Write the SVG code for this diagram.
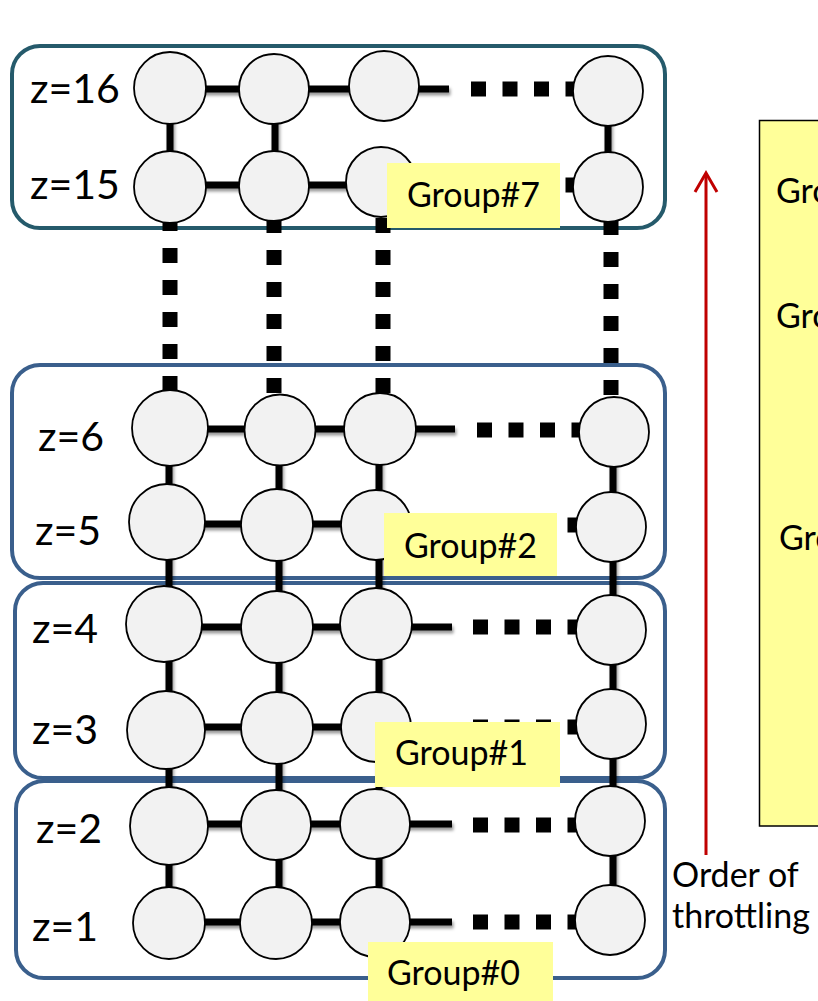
<svg xmlns="http://www.w3.org/2000/svg" width="818" height="1001" viewBox="0 0 818 1001">
  <defs>
    <filter id="lineShadow" x="-20%" y="-50%" width="140%" height="200%">
      <feDropShadow dx="1.5" dy="3" stdDeviation="1.8" flood-color="#000" flood-opacity="0.4"/>
    </filter>
  </defs>
  <style>
    .box7 { fill: none; stroke: #255A6B; stroke-width: 4; }
    .box { fill: none; stroke: #3A5F8C; stroke-width: 4; }
    .link { stroke: #000; stroke-width: 7; fill: none; }
    .dots { stroke: #000; stroke-width: 15; fill: none; stroke-dasharray: 15 16.5; }
    .vdots { stroke: #000; stroke-width: 15; fill: none; stroke-dasharray: 15 17; }
    .node { fill: #F2F2F2; stroke: #000; stroke-width: 1.8; }
    .zlab { font-family: Lato, "Liberation Sans", sans-serif; font-size: 41px; fill: #000; }
    .glab { font-family: Lato, "Liberation Sans", sans-serif; font-size: 34px; fill: #000; }
    .tag { fill: #FFFF99; }
    .panel { fill: #FFFF99; stroke: #000; stroke-width: 1.5; }
  </style>

  <!-- group outlines -->
  <g id="groups">
    <rect class="box7" x="12" y="46" width="653" height="182" rx="28"/>
    <rect class="box" x="12" y="365" width="653" height="213" rx="28"/>
    <rect class="box" x="15" y="583" width="650" height="195" rx="28"/>
    <rect class="box" x="16" y="781" width="649" height="197" rx="28"/>
  </g>

  <!-- links between routers -->
  <g id="connectors">
    <g filter="url(#lineShadow)">
      <!-- z=16 -->
      <line class="link" x1="170" y1="89" x2="384" y2="89"/>
      <line class="link" x1="384" y1="89" x2="449" y2="89"/>
      <!-- z=15 -->
      <line class="link" x1="170" y1="185" x2="440" y2="185"/>
      <!-- z=6 -->
      <line class="link" x1="170" y1="429" x2="455" y2="429"/>
      <!-- z=5 -->
      <line class="link" x1="167" y1="524" x2="440" y2="524"/>
      <!-- z=4 -->
      <line class="link" x1="164" y1="627" x2="452" y2="627"/>
      <!-- z=3 -->
      <line class="link" x1="166" y1="727" x2="440" y2="727"/>
      <!-- z=2 -->
      <line class="link" x1="169" y1="824" x2="452" y2="824"/>
      <!-- z=1 -->
      <line class="link" x1="169" y1="922" x2="452" y2="922"/>
      <!-- vertical links, top block -->
      <line class="link" x1="170" y1="88" x2="170" y2="187"/>
      <line class="link" x1="275" y1="89" x2="275" y2="186"/>
      <line class="link" x1="608" y1="91" x2="608" y2="187"/>
      <!-- vertical links, lower block -->
      <line class="link" x1="169" y1="428" x2="169" y2="923"/>
      <line class="link" x1="279" y1="430" x2="279" y2="923"/>
      <line class="link" x1="379" y1="429" x2="379" y2="922"/>
      <line class="link" x1="613" y1="432" x2="613" y2="920"/>
    </g>
    <!-- elided routers along x -->
    <line class="dots" x1="471" y1="89" x2="576" y2="89"/>
    <line class="dots" x1="471" y1="185" x2="576" y2="185"/>
    <line class="dots" x1="477" y1="430" x2="580" y2="430"/>
    <line class="dots" x1="473" y1="525" x2="578" y2="525"/>
    <line class="dots" x1="473" y1="627" x2="578" y2="627"/>
    <line class="dots" x1="473" y1="727" x2="578" y2="727"/>
    <line class="dots" x1="473" y1="825" x2="578" y2="825"/>
    <line class="dots" x1="473" y1="922" x2="578" y2="922"/>
    <!-- elided layers along z -->
    <line class="vdots" x1="170" y1="216" x2="170" y2="392"/>
    <line class="vdots" x1="274" y1="218" x2="274" y2="394"/>
    <line class="vdots" x1="383" y1="218" x2="383" y2="394"/>
    <line class="vdots" x1="611" y1="220" x2="611" y2="396"/>
  </g>

  <!-- routers -->
  <g id="n16-1"><circle class="node" cx="170" cy="88" r="36"/></g>
  <g id="n16-2"><circle class="node" cx="274" cy="89" r="35"/></g>
  <g id="n16-3"><circle class="node" cx="384" cy="86" r="35"/></g>
  <g id="n16-4"><circle class="node" cx="608" cy="91" r="35"/></g>
  <g id="n15-1"><circle class="node" cx="170" cy="187" r="36"/></g>
  <g id="n15-2"><circle class="node" cx="274" cy="186" r="35"/></g>
  <g id="n15-3"><circle class="node" cx="381" cy="182" r="35"/></g>
  <g id="n15-4"><circle class="node" cx="608" cy="187" r="35"/></g>
  <g id="n6-1"><circle class="node" cx="170" cy="428" r="38"/></g>
  <g id="n6-2"><circle class="node" cx="280" cy="430" r="35.5"/></g>
  <g id="n6-3"><circle class="node" cx="380" cy="429" r="36"/></g>
  <g id="n6-4"><circle class="node" cx="614" cy="432" r="35"/></g>
  <g id="n5-1"><circle class="node" cx="167" cy="522" r="38"/></g>
  <g id="n5-2"><circle class="node" cx="277" cy="525" r="36"/></g>
  <g id="n5-3"><circle class="node" cx="376" cy="525" r="35"/></g>
  <g id="n5-4"><circle class="node" cx="611" cy="527" r="35"/></g>
  <g id="n4-1"><circle class="node" cx="164" cy="624" r="38"/></g>
  <g id="n4-2"><circle class="node" cx="277" cy="627" r="36"/></g>
  <g id="n4-3"><circle class="node" cx="376" cy="624" r="36"/></g>
  <g id="n4-4"><circle class="node" cx="611" cy="630" r="35"/></g>
  <g id="n3-1"><circle class="node" cx="166" cy="730" r="39"/></g>
  <g id="n3-2"><circle class="node" cx="277" cy="728" r="36"/></g>
  <g id="n3-3"><circle class="node" cx="376" cy="727" r="35"/></g>
  <g id="n3-4"><circle class="node" cx="611" cy="724" r="35"/></g>
  <g id="n2-1"><circle class="node" cx="169" cy="826" r="39"/></g>
  <g id="n2-2"><circle class="node" cx="276" cy="825" r="35"/></g>
  <g id="n2-3"><circle class="node" cx="375" cy="824" r="35"/></g>
  <g id="n2-4"><circle class="node" cx="610" cy="821" r="35"/></g>
  <g id="n1-1"><circle class="node" cx="169" cy="923" r="36"/></g>
  <g id="n1-2"><circle class="node" cx="276" cy="923" r="36"/></g>
  <g id="n1-3"><circle class="node" cx="375" cy="922" r="35"/></g>
  <g id="n1-4"><circle class="node" cx="610" cy="920" r="35"/></g>

  <!-- layer labels -->
  <g id="zlabels">
    <text class="zlab" x="30" y="103">z=16</text>
    <text class="zlab" x="30" y="199">z=15</text>
    <text class="zlab" x="38" y="451">z=6</text>
    <text class="zlab" x="35" y="545">z=5</text>
    <text class="zlab" x="32" y="643">z=4</text>
    <text class="zlab" x="32" y="744">z=3</text>
    <text class="zlab" x="36" y="843">z=2</text>
    <text class="zlab" x="32" y="941">z=1</text>
  </g>

  <!-- group tags -->
  <g id="tag7"><rect class="tag" x="387" y="163" width="173" height="65"/><text class="glab" x="407" y="207">Group#7</text></g>
  <g id="tag2"><rect class="tag" x="384" y="513" width="173" height="63"/><text class="glab" x="404" y="558">Group#2</text></g>
  <g id="tag1"><rect class="tag" x="375" y="722" width="185" height="65"/><text class="glab" x="395" y="765">Group#1</text></g>
  <g id="tag0"><rect class="tag" x="368" y="942" width="185" height="59"/><text class="glab" x="387" y="985">Group#0</text></g>

  <!-- throttling order arrow -->
  <g id="order">
    <line x1="706" y1="855" x2="706" y2="174" stroke="#C00000" stroke-width="3"/>
    <polyline points="695,192 706,173 717,192" fill="none" stroke="#C00000" stroke-width="3"/>
    <text class="glab" x="672" y="887">Order of</text>
    <text class="glab" x="672" y="928">throttling</text>
  </g>

  <!-- side panel, running off the right edge -->
  <g id="panel">
    <rect class="panel" x="759.5" y="120.5" width="80" height="705.5"/>
    <text class="glab" x="776" y="203">Gro</text>
    <text class="glab" x="776" y="328">Gro</text>
    <text class="glab" x="779" y="550">Gro</text>
  </g>
</svg>
